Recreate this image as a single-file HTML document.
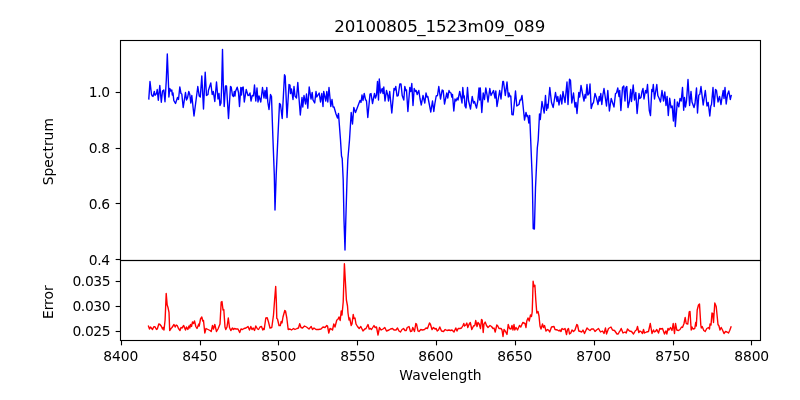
<!DOCTYPE html>
<html lang="en"><head><meta charset="utf-8"><title>20100805_1523m09_089</title>
<style>html,body{margin:0;padding:0;background:#fff;overflow:hidden}svg{display:block;will-change:transform}</style></head>
<body>
<svg width="800" height="400" viewBox="0 0 800 400">
<rect width="800" height="400" fill="#fff"/>
<clipPath id="c1"><rect x="120.5" y="40.5" width="640.0" height="220.0"/></clipPath>
<clipPath id="c2"><rect x="120.5" y="260.5" width="640.0" height="80.0"/></clipPath>
<polyline clip-path="url(#c1)" points="148.80,98.90 150.00,81.50 151.50,94.50 152.20,96.00 153.00,96.50 154.30,91.50 155.00,95.20 156.50,93.50 157.20,89.50 158.30,100.20 159.80,85.50 161.30,102.20 162.50,91.00 163.80,90.00 165.00,101.80 166.30,80.00 167.30,54.00 168.50,85.00 168.90,97.00 169.80,88.50 170.80,91.00 171.80,90.00 172.30,95.00 173.00,93.00 173.80,100.50 175.50,103.50 177.50,97.50 178.50,99.50 179.80,87.00 181.00,93.50 181.80,94.00 183.20,107.50 185.50,92.50 186.50,100.00 187.50,98.00 188.80,91.50 189.80,94.50 190.80,103.00 191.80,95.50 194.00,116.00 197.80,86.50 199.20,96.00 200.30,97.00 201.80,76.00 203.50,109.00 205.20,72.20 206.50,95.50 208.00,94.50 208.40,90.50 210.80,83.00 212.20,94.50 213.30,91.50 214.80,101.50 216.50,82.00 218.00,99.00 219.00,93.50 220.00,105.50 221.00,103.00 221.70,85.00 222.50,49.50 223.30,85.00 224.20,106.50 225.50,86.00 226.50,86.00 228.50,118.50 230.50,86.50 231.20,87.00 232.50,95.50 233.50,96.50 234.30,91.50 235.00,96.00 235.50,91.50 237.20,87.20 238.50,92.50 239.50,106.50 240.80,87.50 241.50,95.00 242.20,87.50 243.20,87.00 244.30,102.00 246.20,89.50 248.00,95.50 249.00,95.20 250.00,93.00 251.00,101.00 252.20,95.50 253.50,95.80 254.50,85.00 255.80,101.00 257.00,88.00 258.00,102.00 259.00,96.00 260.80,102.00 262.50,87.50 264.00,98.00 265.00,90.50 266.00,98.50 266.80,87.50 267.80,102.00 269.00,109.50 270.50,94.50 271.50,96.50 272.80,135.00 274.30,175.00 275.00,210.00 276.20,175.00 278.00,135.00 279.50,103.50 280.50,104.50 282.20,118.50 284.50,74.80 285.20,76.00 287.00,117.50 289.00,84.50 290.00,85.00 290.50,93.50 291.50,89.00 293.00,99.50 294.00,86.50 295.00,96.00 296.50,98.00 297.80,82.50 300.30,115.00 302.00,97.50 302.80,107.00 304.00,95.50 305.50,104.00 306.50,94.00 307.80,108.20 309.20,87.00 311.00,99.00 312.20,92.50 313.00,100.00 314.70,103.00 316.00,91.50 316.80,97.00 319.20,93.00 320.50,102.00 321.80,93.50 323.00,106.50 323.70,91.50 325.80,101.00 326.80,91.50 327.80,102.00 329.00,87.50 330.80,106.50 332.00,99.50 333.00,107.00 334.00,107.00 336.00,114.00 337.50,118.00 338.50,113.50 340.50,140.00 341.50,156.00 342.20,158.50 343.20,180.00 344.00,220.00 345.00,250.00 345.80,220.00 347.00,180.00 347.80,160.00 349.50,140.00 351.20,112.50 352.50,124.00 353.80,107.50 355.50,112.50 360.00,100.50 361.00,102.50 362.00,95.00 363.00,100.50 364.20,93.50 365.50,99.50 366.50,101.00 367.80,117.50 370.00,94.00 371.00,93.50 372.50,103.50 374.50,93.50 375.50,98.00 376.50,95.00 377.50,81.50 378.50,100.00 379.30,79.00 380.50,93.00 382.20,88.50 383.00,93.50 383.80,87.00 385.00,101.00 386.50,90.50 387.80,95.50 388.50,101.00 389.70,91.50 391.80,113.00 394.00,88.50 394.80,90.00 395.80,86.50 397.00,96.00 398.20,95.50 399.80,84.00 401.00,84.00 402.20,95.50 403.80,100.00 404.80,86.50 405.80,90.50 406.50,90.00 407.90,111.50 409.80,87.50 410.80,91.50 411.80,83.50 413.00,105.50 414.20,88.50 415.50,91.50 416.20,90.50 417.20,94.50 418.80,90.50 420.00,98.50 421.30,105.00 423.00,95.50 424.80,103.00 426.00,93.00 427.00,97.00 427.80,96.50 430.80,112.00 432.50,101.00 433.80,111.50 434.80,104.00 436.20,96.00 437.50,95.50 438.80,86.50 440.50,99.00 442.20,90.00 443.20,90.50 444.50,104.00 446.80,93.00 447.80,98.00 449.00,90.50 450.00,92.50 451.00,93.00 451.80,97.00 452.50,94.50 453.80,111.00 455.00,99.00 456.00,101.00 457.20,98.00 458.00,100.00 459.70,91.50 461.00,97.50 462.00,103.00 462.80,87.50 463.80,98.00 464.30,96.00 465.00,106.00 466.00,108.00 467.50,87.50 468.50,100.50 470.50,109.00 472.20,96.50 473.50,103.00 474.50,101.50 476.50,108.00 477.80,101.00 479.00,88.00 479.70,100.00 480.30,88.00 481.80,112.50 483.20,93.00 484.50,99.50 485.80,88.00 487.00,94.50 488.00,102.00 489.80,88.50 491.00,95.50 493.50,90.50 495.00,98.00 495.80,91.00 497.00,106.50 499.70,90.50 501.00,99.00 502.80,81.50 503.50,81.50 505.30,95.50 507.00,82.00 508.30,97.00 509.00,93.00 510.00,96.50 510.80,96.00 511.90,114.50 513.20,114.80 515.50,91.00 516.80,106.00 519.00,104.50 520.00,100.00 520.80,100.00 522.00,95.50 524.50,120.00 526.00,112.50 527.00,116.50 527.80,115.50 528.80,123.00 529.70,115.50 530.70,140.00 532.30,180.00 533.20,228.50 534.40,229.00 535.50,188.00 537.30,148.00 538.20,140.00 539.50,114.00 540.30,119.50 542.00,101.50 543.00,107.00 544.20,113.00 545.50,95.50 546.50,110.30 547.50,104.50 548.00,108.00 549.80,87.50 551.50,102.50 553.20,107.50 555.50,92.50 557.00,101.50 557.80,96.50 559.00,105.00 560.50,95.00 561.80,104.00 563.00,91.50 565.00,102.50 567.00,82.00 568.00,104.50 569.50,79.20 570.50,80.50 571.80,103.00 573.50,93.00 575.00,107.00 576.00,102.50 577.00,113.50 578.80,92.50 579.70,97.00 581.00,85.50 582.50,93.50 584.00,101.00 585.00,94.50 585.80,98.00 587.00,84.50 587.80,95.00 589.00,93.50 590.00,84.00 591.20,108.50 592.50,104.00 593.50,102.50 595.00,93.50 596.50,98.00 598.00,104.50 599.20,96.50 599.80,101.00 600.80,93.50 601.80,104.50 602.80,95.50 604.00,88.50 606.50,106.00 607.80,90.50 609.40,111.00 611.20,98.50 612.50,102.50 614.00,107.00 615.50,93.50 616.50,93.00 617.80,88.00 619.00,96.50 619.70,90.50 620.90,110.50 622.50,87.50 623.80,86.00 625.00,101.00 625.80,88.00 626.80,86.50 628.00,107.50 629.50,101.00 630.70,89.50 631.50,101.50 633.20,85.00 634.50,100.00 635.80,92.50 637.10,113.50 639.00,93.50 639.80,98.50 641.00,97.50 642.00,91.50 643.00,88.50 644.00,99.00 645.50,90.50 646.50,93.00 647.50,84.50 649.30,110.50 650.50,115.50 651.80,89.50 652.50,91.50 653.30,84.50 654.50,99.00 655.50,92.50 656.80,84.50 657.80,95.50 659.00,98.00 660.50,102.00 662.00,90.50 663.50,101.00 664.80,92.00 666.00,105.50 667.10,96.50 668.30,115.50 669.70,98.30 671.00,107.70 672.20,106.00 673.40,121.00 674.60,99.50 675.30,126.50 677.30,102.00 678.80,106.80 680.00,98.50 681.20,101.00 682.50,87.50 683.70,110.30 684.50,97.50 685.50,107.00 686.50,101.00 688.00,79.50 689.60,105.50 691.00,91.50 692.00,102.00 694.00,107.50 695.00,103.50 696.50,88.00 697.50,113.00 698.80,95.00 699.80,94.50 701.00,86.50 703.20,105.00 705.30,90.50 707.00,106.00 708.20,102.50 709.80,116.00 710.80,106.00 711.50,104.50 713.00,87.50 714.20,106.50 715.50,89.50 716.50,90.50 718.00,102.00 719.50,96.50 721.00,104.50 722.00,97.50 723.20,90.50 724.00,98.50 725.00,87.50 726.20,104.00 727.50,94.50 728.80,91.00 730.30,99.50 731.20,95.50" fill="none" stroke="#0000ff" stroke-width="1.39" stroke-linejoin="round" stroke-linecap="square"/>
<polyline clip-path="url(#c2)" points="148.50,326.20 149.50,329.00 150.50,327.00 152.50,329.50 153.80,326.80 155.00,326.80 156.50,329.50 157.30,329.00 158.80,324.00 160.00,324.50 161.50,326.50 162.50,329.00 163.20,327.50 164.00,330.00 165.10,320.00 166.20,293.50 167.20,305.00 168.00,307.50 169.00,312.30 169.70,330.50 171.00,328.50 172.00,327.50 174.00,324.50 175.20,327.00 176.20,325.00 177.20,325.50 178.50,328.50 180.00,330.50 181.00,327.50 182.00,328.00 183.70,325.50 185.50,330.00 186.50,327.00 187.80,329.50 189.00,326.00 189.80,328.00 190.50,324.50 191.50,326.50 192.50,322.00 193.50,323.50 194.50,321.00 195.80,326.50 197.00,328.50 198.20,325.50 198.80,324.00 199.20,326.00 200.50,319.00 201.80,317.00 202.80,321.00 203.50,320.50 204.80,333.00 206.00,328.50 208.00,329.50 210.00,330.50 211.20,331.50 212.50,325.50 213.50,329.00 214.80,324.50 216.50,331.50 218.00,329.00 219.00,326.50 220.00,324.00 221.20,302.00 222.00,301.50 223.00,310.00 223.80,309.50 225.00,327.00 225.80,329.50 227.00,327.00 228.30,318.00 229.50,327.50 230.80,330.50 232.50,328.00 233.50,329.50 234.50,328.50 236.00,329.00 238.00,329.00 239.70,332.50 241.00,329.00 242.50,329.50 244.00,328.50 246.00,328.00 248.00,326.50 249.50,330.00 250.80,326.50 252.00,329.50 253.20,328.00 254.50,330.50 255.80,326.00 257.50,329.00 258.50,329.50 260.00,327.00 261.50,326.50 262.80,330.00 263.50,328.50 264.20,329.50 265.80,318.00 267.20,317.80 268.50,322.00 270.00,328.00 271.80,327.50 273.50,315.00 274.60,300.00 275.70,286.50 276.30,300.00 276.80,318.50 277.50,319.00 279.00,325.50 280.30,325.50 281.20,321.50 282.00,323.00 283.00,317.00 284.80,310.50 285.50,311.00 286.80,318.00 288.20,329.50 290.00,329.00 291.50,330.00 293.50,328.50 295.00,329.50 297.00,328.50 298.50,328.00 299.70,323.70 301.00,327.50 302.50,328.00 304.50,326.00 306.50,327.00 309.00,329.00 311.20,326.50 312.50,329.50 314.00,328.00 316.00,329.50 318.50,329.50 321.00,329.00 323.00,327.00 325.00,327.50 326.80,325.50 327.50,326.00 328.80,333.00 330.00,328.50 331.20,329.00 332.50,330.00 333.80,324.00 335.00,327.00 336.80,320.00 337.80,319.50 339.00,317.00 340.20,320.50 341.20,311.00 342.00,315.00 343.20,302.00 344.40,263.70 346.40,300.00 347.50,306.00 348.00,313.00 349.00,320.00 349.70,318.00 351.20,325.50 352.00,324.00 353.20,314.50 354.00,318.50 355.00,318.00 356.00,324.00 357.50,326.50 359.20,328.50 360.80,326.50 363.00,331.00 364.80,329.00 366.00,328.50 368.00,324.50 369.20,329.00 370.50,328.50 371.50,329.50 374.00,325.50 375.00,327.50 376.50,327.00 378.00,335.00 379.50,327.50 380.00,328.50 381.20,330.00 383.00,329.00 384.80,327.50 386.50,331.00 389.00,330.00 390.50,329.00 392.50,328.50 394.00,330.00 396.00,330.00 397.50,328.00 399.00,331.00 400.50,332.00 402.00,329.50 403.50,328.50 405.00,330.50 406.20,330.50 407.20,327.50 409.00,326.50 410.50,331.50 411.80,331.00 412.80,327.50 414.50,331.50 415.80,323.50 416.50,324.00 418.00,331.00 419.00,331.50 420.80,329.50 422.50,330.00 424.50,329.50 426.00,328.00 427.50,328.50 429.50,323.00 430.50,324.50 432.00,329.50 433.50,327.50 435.00,329.00 436.20,328.50 437.20,331.00 438.50,330.00 439.80,327.00 441.50,331.00 443.50,331.50 445.20,329.50 447.00,330.50 449.00,330.00 450.50,330.50 452.00,330.00 454.00,332.00 455.80,328.00 457.00,331.00 458.20,328.50 460.00,328.50 461.50,328.00 463.00,325.50 463.80,323.50 464.50,326.00 465.80,325.00 466.80,323.00 467.80,327.50 469.00,324.50 470.30,322.50 471.80,329.50 473.50,326.00 474.80,325.50 475.70,320.50 477.00,326.50 478.00,322.50 479.20,324.00 480.50,328.50 481.50,319.50 482.20,320.00 483.20,332.50 484.00,324.00 485.20,322.00 486.50,325.50 488.00,327.50 490.00,325.50 491.50,326.50 493.00,328.50 494.00,328.00 495.20,332.00 496.80,325.00 497.80,326.00 499.00,328.50 501.00,328.50 502.00,330.00 503.00,336.50 504.00,329.50 505.50,331.50 507.00,334.50 508.20,324.50 509.50,328.50 511.00,329.00 512.00,325.50 513.00,330.00 514.00,324.50 514.80,330.00 516.00,327.50 517.50,330.00 519.50,325.50 520.80,327.00 522.80,322.50 525.00,323.50 526.00,327.50 526.80,321.00 528.00,318.00 529.20,321.00 530.50,315.00 531.50,316.50 532.20,312.00 532.60,300.00 533.10,281.20 533.90,286.50 534.90,285.20 535.80,300.00 536.80,313.00 538.00,311.50 539.00,316.00 540.00,326.00 541.00,329.00 542.50,324.00 543.50,327.50 544.50,325.50 546.00,331.00 547.50,329.50 548.50,330.00 549.70,332.00 551.50,327.00 554.00,326.50 555.00,329.50 557.50,330.00 559.00,331.00 560.00,330.00 561.00,331.50 562.00,328.50 563.50,329.50 565.00,328.50 566.50,334.50 567.50,329.50 568.50,328.50 569.50,334.00 570.80,333.00 572.00,330.00 573.50,331.50 575.00,330.00 576.80,324.50 577.50,325.00 578.80,331.00 580.50,331.50 581.80,332.00 583.00,330.00 584.50,333.50 587.00,328.00 588.50,329.50 590.00,330.50 591.50,329.00 593.50,329.00 595.00,331.50 596.50,330.00 598.50,328.50 600.50,332.00 602.50,331.00 604.00,333.50 605.50,328.00 606.50,334.00 608.50,328.50 611.00,327.00 612.50,330.00 614.50,330.50 617.00,334.00 618.20,334.00 619.50,331.50 620.00,331.00 621.20,328.50 623.00,333.00 625.00,332.00 626.20,333.00 627.50,329.00 629.50,331.00 631.50,331.50 633.50,334.00 635.50,330.50 636.50,330.00 637.50,326.50 638.80,332.50 640.00,331.00 641.50,332.00 642.50,333.50 643.50,329.50 644.50,333.00 646.50,332.00 648.50,331.50 650.30,323.50 652.00,333.50 653.50,330.00 654.50,332.00 655.50,331.50 656.80,329.50 658.50,333.00 659.80,328.50 661.00,329.00 662.50,328.50 664.50,334.00 665.80,331.00 666.80,334.00 668.00,328.50 669.00,330.00 670.50,327.50 672.00,330.50 673.20,323.50 674.50,333.50 675.50,323.50 676.80,330.00 678.50,330.50 680.00,329.50 681.50,327.00 682.50,327.50 684.00,323.50 685.20,317.50 686.20,323.50 687.80,324.00 689.20,311.80 690.00,311.50 691.20,330.00 692.00,327.00 693.00,329.00 694.80,328.50 695.70,322.50 696.30,326.00 697.20,310.00 698.50,305.00 699.50,304.00 700.80,325.00 701.30,328.00 702.20,326.50 703.80,330.50 705.20,331.50 706.80,328.50 708.50,327.50 709.50,329.00 710.00,324.00 711.00,325.00 712.00,313.00 712.80,313.50 713.50,322.50 714.80,303.00 716.20,306.50 718.00,324.50 719.00,326.00 720.00,330.00 721.20,327.50 722.50,330.00 724.00,333.50 725.50,331.50 727.00,332.00 728.50,333.00 729.70,330.50 731.00,327.00" fill="none" stroke="#ff0000" stroke-width="1.39" stroke-linejoin="round" stroke-linecap="square"/>
<g fill="none" stroke="#000" stroke-width="1.11" stroke-linecap="square">
<rect x="120.5" y="40.5" width="640.0" height="220.0"/>
<rect x="120.5" y="260.5" width="640.0" height="80.0"/>
<line x1="121.5" y1="340.5" x2="121.5" y2="345.36" stroke-linecap="butt"/>
<line x1="200.5" y1="340.5" x2="200.5" y2="345.36" stroke-linecap="butt"/>
<line x1="278.5" y1="340.5" x2="278.5" y2="345.36" stroke-linecap="butt"/>
<line x1="357.5" y1="340.5" x2="357.5" y2="345.36" stroke-linecap="butt"/>
<line x1="436.5" y1="340.5" x2="436.5" y2="345.36" stroke-linecap="butt"/>
<line x1="515.5" y1="340.5" x2="515.5" y2="345.36" stroke-linecap="butt"/>
<line x1="594.5" y1="340.5" x2="594.5" y2="345.36" stroke-linecap="butt"/>
<line x1="673.5" y1="340.5" x2="673.5" y2="345.36" stroke-linecap="butt"/>
<line x1="751.5" y1="340.5" x2="751.5" y2="345.36" stroke-linecap="butt"/>
<line x1="120.5" y1="92.5" x2="115.64" y2="92.5" stroke-linecap="butt"/>
<line x1="120.5" y1="148.5" x2="115.64" y2="148.5" stroke-linecap="butt"/>
<line x1="120.5" y1="203.5" x2="115.64" y2="203.5" stroke-linecap="butt"/>
<line x1="120.5" y1="259.5" x2="115.64" y2="259.5" stroke-linecap="butt"/>
<line x1="120.5" y1="281.5" x2="115.64" y2="281.5" stroke-linecap="butt"/>
<line x1="120.5" y1="306.5" x2="115.64" y2="306.5" stroke-linecap="butt"/>
<line x1="120.5" y1="331.5" x2="115.64" y2="331.5" stroke-linecap="butt"/>
</g>
<g font-family="'DejaVu Sans', 'Liberation Sans', sans-serif" font-size="13.889" fill="#000">
<text x="120.70" y="360.72" text-anchor="middle" letter-spacing="-0.1">8400</text>
<text x="199.70" y="360.72" text-anchor="middle" letter-spacing="-0.1">8450</text>
<text x="278.70" y="360.72" text-anchor="middle" letter-spacing="-0.1">8500</text>
<text x="357.65" y="360.72" text-anchor="middle" letter-spacing="-0.1">8550</text>
<text x="435.70" y="360.72" text-anchor="middle" letter-spacing="-0.1">8600</text>
<text x="514.70" y="360.72" text-anchor="middle" letter-spacing="-0.1">8650</text>
<text x="593.65" y="360.72" text-anchor="middle" letter-spacing="-0.1">8700</text>
<text x="672.65" y="360.72" text-anchor="middle" letter-spacing="-0.1">8750</text>
<text x="751.65" y="360.72" text-anchor="middle" letter-spacing="-0.1">8800</text>
<text x="109.68" y="97" text-anchor="end" letter-spacing="-0.4">1.0</text>
<text x="109.68" y="153" text-anchor="end" letter-spacing="-0.4">0.8</text>
<text x="109.68" y="209" text-anchor="end" letter-spacing="-0.4">0.6</text>
<text x="109.68" y="265" text-anchor="end" letter-spacing="-0.4">0.4</text>
<text x="110.18" y="286" text-anchor="end" letter-spacing="-0.4">0.035</text>
<text x="110.18" y="311" text-anchor="end" letter-spacing="-0.4">0.030</text>
<text x="110.18" y="336" text-anchor="end" letter-spacing="-0.4">0.025</text>
<text x="440.5" y="380" text-anchor="middle">Wavelength</text>
<text transform="translate(53,151.7) rotate(-90)" text-anchor="middle">Spectrum</text>
<text transform="translate(53,302.2) rotate(-90)" text-anchor="middle">Error</text>
<text x="334.3" y="31.5" dx="0 -0.12 -0.12 -0.12 -0.12 -0.12 -0.12 -0.12 -0.49 0 0 0 0 0 0 0 0.5 0 0 0" font-size="16.667" letter-spacing="-0.08">20100805_1523m09_089</text>
</g>
</svg>
</body></html>
